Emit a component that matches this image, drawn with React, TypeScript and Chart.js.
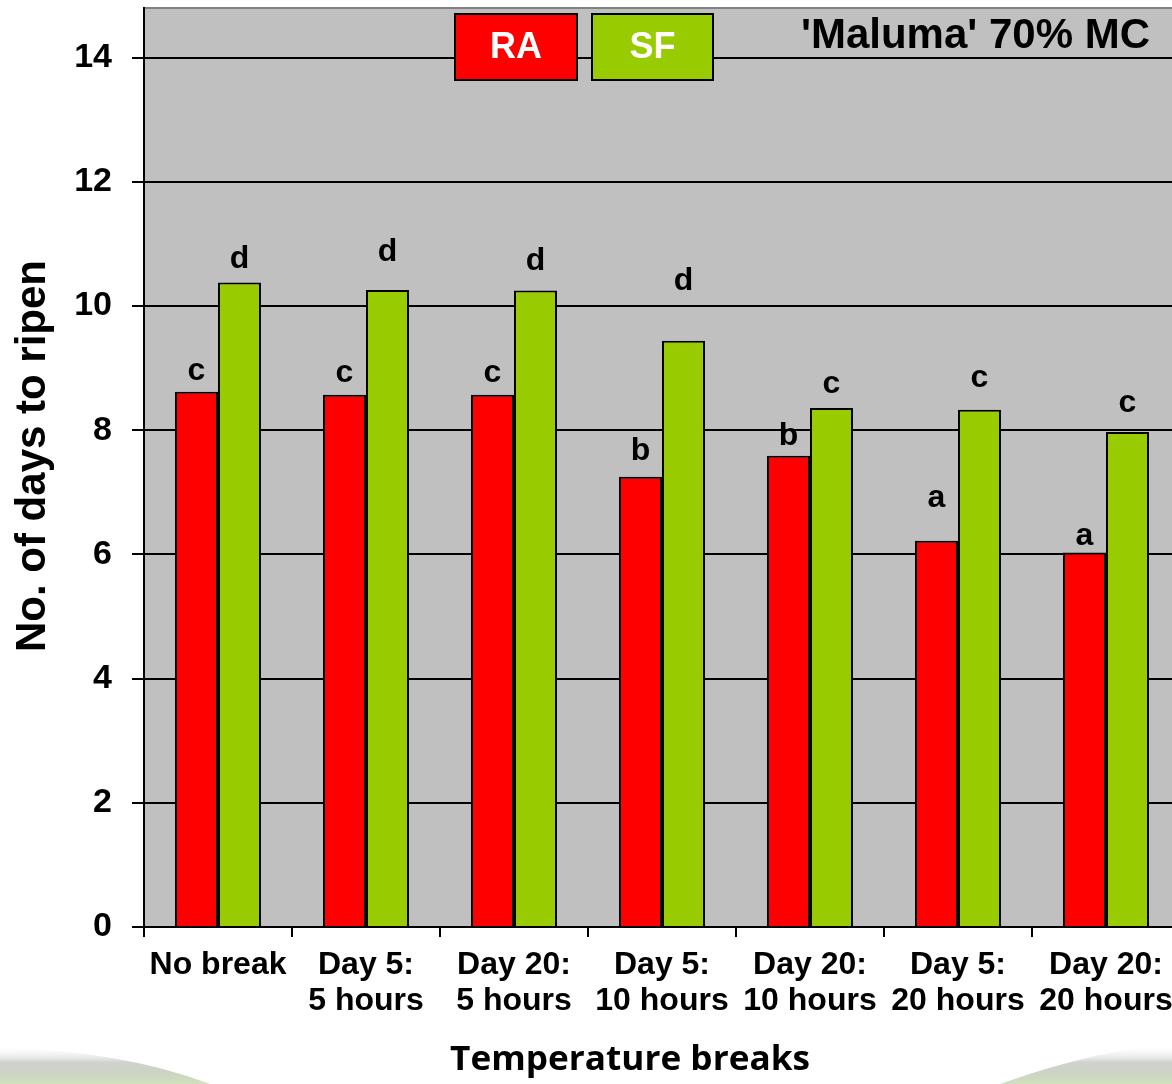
import React, { useEffect, useRef } from "react";
import { Chart, registerables } from "chart.js";

Chart.register(...registerables);

const categories: (string | string[])[] = [
  "No break",
  ["Day 5:", "5 hours"],
  ["Day 20:", "5 hours"],
  ["Day 5:", "10 hours"],
  ["Day 20:", "10 hours"],
  ["Day 5:", "20 hours"],
  ["Day 20:", "20 hours"],
];
const seriesNames = ["RA", "SF"];
const raValues = [8.62, 8.57, 8.57, 7.25, 7.59, 6.22, 6.03];
const sfValues = [10.38, 10.26, 10.25, 9.44, 8.36, 8.33, 7.97];
const raLetters = ["c", "c", "c", "b", "b", "a", "a"];
const sfLetters = ["d", "d", "d", "d", "c", "c", "c"];
// height (in days) at which each significance letter sits
const raLetterAt = [8.81, 8.78, 8.78, 7.52, 7.77, 6.77, 6.15];
const sfLetterAt = [10.62, 10.73, 10.58, 10.26, 8.6, 8.7, 8.3];
const yTicks = [0, 2, 4, 6, 8, 10, 12, 14];
const yMax = 14.8;
const chartTitle = "'Maluma' 70% MC";
const yTitle = "No. of days to ripen";
const xTitle = "Temperature breaks";

const FONT = "'Liberation Sans', Arial, sans-serif";
const RED = "#ff0000";
const GREEN = "#99cc00";

const decor = {
  id: "decor",
  beforeDraw(chart: any) {
    const { ctx, chartArea: a } = chart;
    ctx.save();
    ctx.fillStyle = "#ffffff";
    ctx.fillRect(0, 0, chart.width, chart.height);
    // faint background image hints at the bottom
    let g = ctx.createLinearGradient(0, 1045, 0, 1084);
    g.addColorStop(0, "rgba(255,255,255,0)");
    g.addColorStop(0.45, "rgba(160,165,160,0.5)");
    g.addColorStop(1, "rgba(200,220,175,0.85)");
    ctx.fillStyle = g;
    ctx.beginPath();
    ctx.moveTo(0, 1048);
    ctx.quadraticCurveTo(120, 1050, 210, 1084);
    ctx.lineTo(0, 1084);
    ctx.closePath();
    ctx.fill();
    ctx.beginPath();
    ctx.moveTo(1000, 1084);
    ctx.quadraticCurveTo(1100, 1048, 1190, 1042);
    ctx.lineTo(1190, 1084);
    ctx.closePath();
    ctx.fill();
    // plot background
    ctx.fillStyle = "#c0c0c0";
    ctx.fillRect(a.left, a.top, a.right - a.left, a.bottom - a.top);
    ctx.strokeStyle = "#808080";
    ctx.lineWidth = 2;
    ctx.beginPath();
    ctx.moveTo(a.left, a.top);
    ctx.lineTo(a.right, a.top);
    ctx.stroke();
    ctx.restore();
  },
  afterDatasetsDraw(chart: any) {
    const { ctx } = chart;
    const y = chart.scales.y;
    ctx.save();
    // significance letters
    ctx.fillStyle = "#000";
    ctx.font = `bold 32px ${FONT}`;
    ctx.textAlign = "center";
    ctx.textBaseline = "alphabetic";
    const sets = [
      { letters: raLetters, at: raLetterAt },
      { letters: sfLetters, at: sfLetterAt },
    ];
    sets.forEach((s, di) => {
      const meta = chart.getDatasetMeta(di);
      meta.data.forEach((bar: any, i: number) => {
        ctx.fillText(s.letters[i], bar.x, y.getPixelForValue(s.at[i]));
      });
    });
    // legend boxes
    const boxes = [
      { x: 455, w: 122, color: RED },
      { x: 592, w: 121, color: GREEN },
    ];
    boxes.forEach((b, i) => {
      ctx.fillStyle = b.color;
      ctx.fillRect(b.x, 14, b.w, 66);
      ctx.strokeStyle = "#000";
      ctx.lineWidth = 2;
      ctx.strokeRect(b.x, 14, b.w, 66);
      ctx.fillStyle = "#ffffff";
      ctx.font = `bold 36px ${FONT}`;
      ctx.textAlign = "center";
      ctx.textBaseline = "middle";
      ctx.fillText(seriesNames[i], b.x + b.w / 2, 48);
    });
    // title
    ctx.fillStyle = "#000";
    ctx.font = `bold 42px ${FONT}`;
    ctx.textAlign = "right";
    ctx.textBaseline = "alphabetic";
    ctx.fillText(chartTitle, 1150, 48);
    // y title
    ctx.save();
    ctx.translate(33, 456);
    ctx.rotate(-Math.PI / 2);
    ctx.font = `bold 42px ${FONT}`;
    ctx.textAlign = "center";
    ctx.textBaseline = "middle";
    ctx.fillText(yTitle, 0, 0);
    ctx.restore();
    // x title
    ctx.font = `bold 34px 'Open Sans', ${FONT}`;
    const w = ctx.measureText(xTitle).width;
    const sx = 360 / w;
    ctx.save();
    ctx.translate(630, 1060);
    ctx.scale(sx, 1);
    ctx.textAlign = "center";
    ctx.textBaseline = "middle";
    ctx.fillText(xTitle, 0, 0);
    ctx.restore();
    ctx.restore();
  },
};

export default function App() {
  const ref = useRef<HTMLCanvasElement | null>(null);
  useEffect(() => {
    if (!ref.current) return;
    const chart = new Chart(ref.current, {
      type: "bar",
      data: {
        labels: categories as any,
        datasets: [
          {
            label: seriesNames[0],
            data: raValues,
            backgroundColor: RED,
            borderColor: "#000",
            borderWidth: 2,
            categoryPercentage: 0.581,
            barPercentage: 1,
          },
          {
            label: seriesNames[1],
            data: sfValues,
            backgroundColor: GREEN,
            borderColor: "#000",
            borderWidth: 2,
            categoryPercentage: 0.581,
            barPercentage: 1,
          },
        ],
      },
      options: {
        animation: false,
        responsive: false,
        devicePixelRatio: 1,
        layout: { padding: { top: 8, right: 10, left: 0, bottom: 0 } },
        plugins: {
          legend: { display: false },
          tooltip: { enabled: false },
          title: { display: false },
        },
        scales: {
          x: {
            grid: {
              display: true,
              drawOnChartArea: false,
              drawTicks: true,
              tickLength: 10,
              color: "#000",
              lineWidth: 2,
              offset: true,
            },
            border: { display: true, color: "#000", width: 2 },
            ticks: {
              color: "#000",
              font: { family: FONT, size: 32, weight: "bold", lineHeight: 1.1 },
              padding: 11,
              maxRotation: 0,
              autoSkip: false,
            },
            afterFit(scale: any) {
              scale.height = 157;
              scale.paddingLeft = 0;
              scale.paddingRight = 0;
            },
          },
          y: {
            min: 0,
            max: yMax,
            ticks: {
              stepSize: 2,
              includeBounds: false,
              color: "#000",
              font: { family: FONT, size: 34, weight: "bold" },
              padding: 20,
            },
            afterBuildTicks(scale: any) {
              scale.ticks = yTicks.map((v) => ({ value: v }));
            },
            grid: {
              color: "#000",
              lineWidth: 2,
              tickLength: 12,
              drawTicks: true,
            },
            border: { display: true, color: "#000", width: 2 },
            afterFit(scale: any) {
              scale.width = 144;
              scale.paddingTop = 0;
              scale.paddingBottom = 0;
            },
          },
        },
      },
      plugins: [decor],
    });
    return () => chart.destroy();
  }, []);
  return (
    <div
      style={{
        position: "absolute",
        left: 0,
        top: 0,
        width: 1172,
        height: 1084,
        overflow: "hidden",
        background: "#fff",
      }}
    >
      <canvas ref={ref} width={1190} height={1084} style={{ display: "block" }} />
    </div>
  );
}
